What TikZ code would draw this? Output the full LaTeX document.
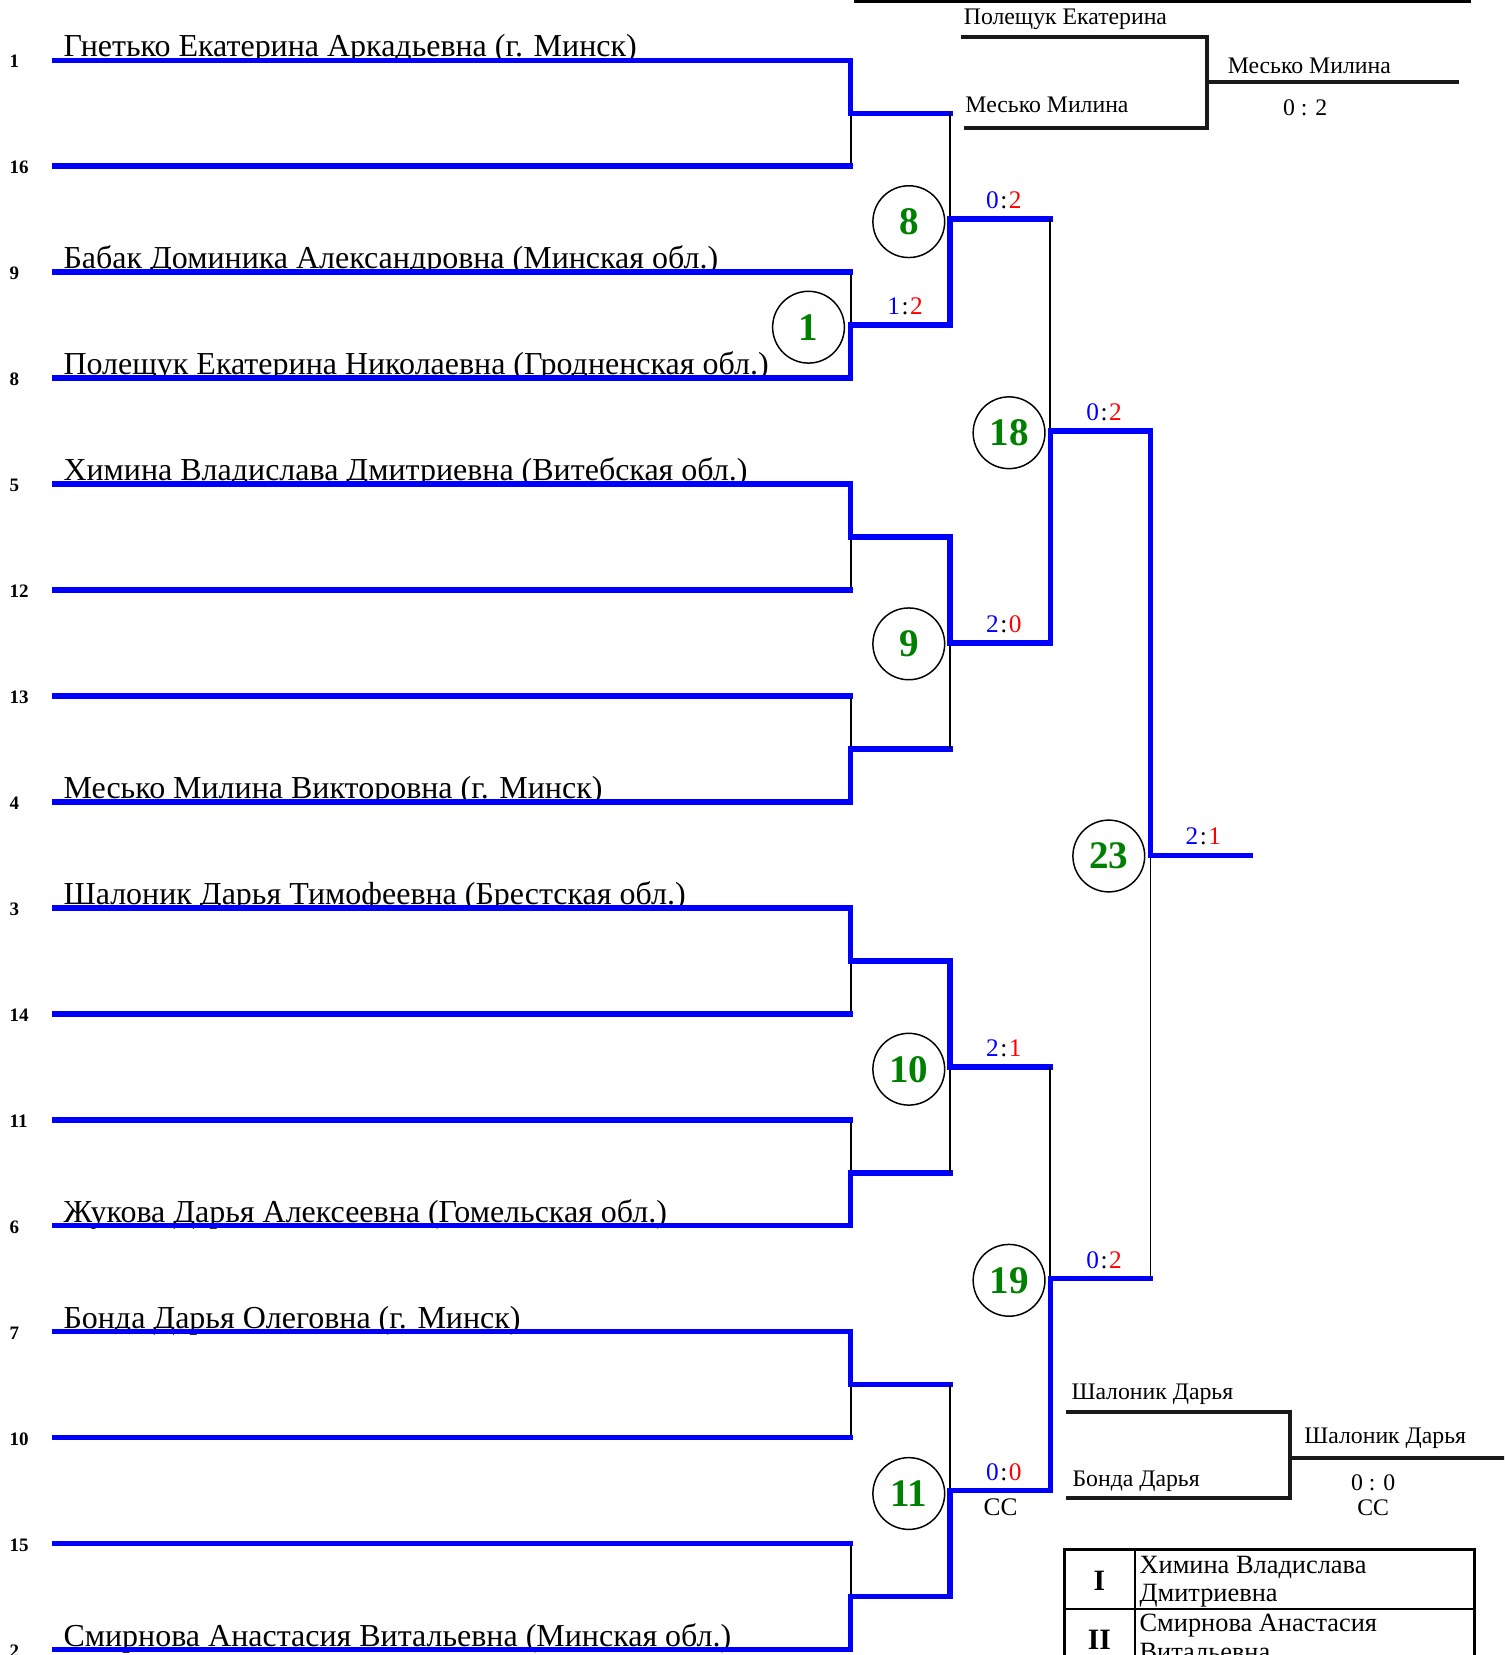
\documentclass[tikz,border=0pt]{standalone}
\usepackage{fontspec}
\setmainfont{Liberation Serif}
\definecolor{pblue}{RGB}{0,0,255}
\definecolor{pgreen}{RGB}{0,128,0}
\definecolor{pred}{RGB}{255,0,0}
\newcommand{\mscore}[2]{\textcolor{pblue}{#1}\kern1.5pt:\kern1.5pt\textcolor{pred}{#2}}
\tikzset{
  win/.style={draw=pblue, line width=5pt, line cap=rect, line join=miter},
  lose/.style={draw=black, line width=1.6pt},
  pline/.style={draw=pblue, line width=5pt, line cap=rect},
  mnum/.style={circle, draw=black, line width=1.4pt, minimum size=68pt, inner sep=0pt, text=pgreen, font=\fontsize{37}{37}\selectfont\bfseries},
  seedlbl/.style={anchor=base west, inner sep=0pt, font=\fontsize{18}{18}\selectfont\bfseries},
  pname/.style={anchor=base west, inner sep=0pt, font=\fontsize{30.3}{30.3}\selectfont},
  score/.style={anchor=base, inner sep=0pt, font=\fontsize{24}{24}\selectfont},
  small/.style={anchor=base west, inner sep=0pt, font=\fontsize{22.5}{22.5}\selectfont},
  smallc/.style={anchor=base, inner sep=0pt, font=\fontsize{22.5}{22.5}\selectfont},
  mini/.style={draw=black!90, line width=3.8pt, line join=miter},
  tabline/.style={draw=black, line width=2pt},
  tabtxt/.style={anchor=base west, inner sep=0pt, font=\fontsize{25}{25}\selectfont},
  tabnum/.style={anchor=base, inner sep=0pt, font=\fontsize{28}{28}\selectfont\bfseries},
}
\begin{document}
\begin{tikzpicture}[x=1pt,y=-1pt]
\clip (0,0) rectangle (1425,1568);
\fill[white] (0,0) rectangle (1425,1568);

% players
\foreach \k/\s/\n in {
  0/1/{Гнетько Екатерина Аркадьевна (г. Минск)},
  1/16/{},
  2/9/{Бабак Доминика Александровна (Минская обл.)},
  3/8/{Полещук Екатерина Николаевна (Гродненская обл.)},
  4/5/{Химина Владислава Дмитриевна (Витебская обл.)},
  5/12/{},
  6/13/{},
  7/4/{Месько Милина Викторовна (г. Минск)},
  8/3/{Шалоник Дарья Тимофеевна (Брестская обл.)},
  9/14/{},
  10/11/{},
  11/6/{Жукова Дарья Алексеевна (Гомельская обл.)},
  12/7/{Бонда Дарья Олеговна (г. Минск)},
  13/10/{},
  14/15/{},
  15/2/{Смирнова Анастасия Витальевна (Минская обл.)}}{
  \coordinate (L\k) at (52,{57+100.4*\k});
  \coordinate (R\k) at (806,{57+100.4*\k});
  \node[seedlbl] (s\k) at (9,{64+100.4*\k}) {\s};
  \node[pname] (n\k) at (60,{54+100.4*\k}) {\n};
}

% round 1
\foreach \p/\w/\l in {0/0/1,1/3/2,2/4/5,3/7/6,4/8/9,5/11/10,6/12/13,7/15/14}{
  \coordinate (MA\p) at (806,{57+100.4*(2*\p+0.5)});
  \coordinate (OA\p) at (900,{57+100.4*(2*\p+0.5)});
  \draw[lose] (R\l) -- (MA\p);
  \draw[pline] (L\l) -- (R\l);
  \draw[win] (L\w) -- (R\w) -- (MA\p) -- (OA\p);
}
% round 2
\foreach \q/\w/\l in {0/1/0,1/2/3,2/4/5,3/7/6}{
  \coordinate (MB\q) at (900,{57+100.4*(4*\q+1.5)});
  \coordinate (OB\q) at (995,{57+100.4*(4*\q+1.5)});
  \draw[lose] (OA\l) -- (MB\q);
  \draw[win] (OA\w) -- (MB\q) -- (OB\q);
}
% round 3
\foreach \r/\w/\l in {0/1/0,1/3/2}{
  \coordinate (MC\r) at (995,{57+100.4*(8*\r+3.5)});
  \coordinate (OC\r) at (1090,{57+100.4*(8*\r+3.5)});
  \draw[lose] (OB\l) -- (MC\r);
  \draw[win] (OB\w) -- (MC\r) -- (OC\r);
}
% final
\coordinate (MD) at (1090,810.2);
\coordinate (OD) at (1185,810.2);
\draw[lose] (OC1) -- (MD);
\draw[win] (OC0) -- (MD) -- (OD);

% match circles
\node[mnum] (c1) at (766,310) {1};
\node[mnum] (c8) at (861,210) {8};
\node[mnum] (c9) at (861,610) {9};
\node[mnum] (c10) at (861,1013) {10};
\node[mnum] (c11) at (861,1415) {11};
\node[mnum] (c18) at (956,410) {18};
\node[mnum] (c19) at (956,1213) {19};
\node[mnum] (c23) at (1050.5,811) {23};

% scores
\node[score] (t1) at (857.5,298) {\mscore{1}{2}};
\node[score] (t8) at (951,197.6) {\mscore{0}{2}};
\node[score] (t9) at (951,599) {\mscore{2}{0}};
\node[score] (t10) at (951,1000.6) {\mscore{2}{1}};
\node[score] (t11) at (951,1402.2) {\mscore{0}{0}};
\node[score] (t11b) at (948,1436) {СС};
\node[score] (t18) at (1046,398.4) {\mscore{0}{2}};
\node[score] (t19) at (1046,1201.6) {\mscore{0}{2}};
\node[score] (t23) at (1140,800.2) {\mscore{2}{1}};

% top cut-off frame
\coordinate (fa) at (810,-4);
\coordinate (fb) at (810,1.4);
\coordinate (fc) at (1392,1.4);
\coordinate (fd) at (1392,-4);
\draw[black, line width=2.5pt] (fa) -- (fb) -- (fc) -- (fd);

% top mini bracket
\coordinate (ua) at (910,35);
\coordinate (ub) at (1144,35);
\coordinate (uc) at (1144,121);
\coordinate (ud) at (913,121);
\coordinate (ue) at (1144,78);
\coordinate (uf) at (1382,78);
\draw[mini] (ua) -- (ub) -- (uc) -- (ud);
\draw[mini] (ue) -- (uf);
\node[small] (u1) at (913,23.5) {Полещук Екатерина};
\node[small] (u2) at (914.5,107) {Месько Милина};
\node[small] (u3) at (1163,69.5) {Месько Милина};
\node[smallc] (u4) at (1236.5,109) {0 : 2};

% bottom mini bracket
\coordinate (va) at (1010,1338);
\coordinate (vb) at (1222,1338);
\coordinate (vc) at (1222,1419.7);
\coordinate (vd) at (1010,1419.7);
\coordinate (ve) at (1222,1381.5);
\coordinate (vf) at (1430,1381.5);
\draw[mini] (va) -- (vb) -- (vc) -- (vd);
\draw[mini] (ve) -- (vf);
\node[small] (v1) at (1015,1325.6) {Шалоник Дарья};
\node[small] (v2) at (1016,1408.6) {Бонда Дарья};
\node[small] (v3) at (1235.6,1368) {Шалоник Дарья};
\node[smallc] (v4) at (1301,1411.8) {0 : 0};
\node[smallc] (v5) at (1301,1435.5) {СС};

% results table
\coordinate (ta) at (1008.5,1468);
\coordinate (tb) at (1397,1640);
\draw[tabline] (ta) rectangle (tb);
\coordinate (tc) at (1008.5,1524.6);
\coordinate (td) at (1397,1524.6);
\draw[tabline] (tc) -- (td);
\coordinate (te) at (1075.5,1468);
\coordinate (tf) at (1075.5,1640);
\draw[tabline] (te) -- (tf);
\node[tabnum] (r1) at (1041.6,1506.6) {I};
\node[tabnum] (r2) at (1041.6,1563) {II};
\node[tabtxt] (r1a) at (1079.5,1490.7) {Химина Владислава};
\node[tabtxt] (r1b) at (1079.5,1517.6) {Дмитриевна};
\node[tabtxt] (r2a) at (1079.5,1546) {Смирнова Анастасия};
\node[tabtxt] (r2b) at (1079.5,1573) {Витальевна};
\end{tikzpicture}
\end{document}
